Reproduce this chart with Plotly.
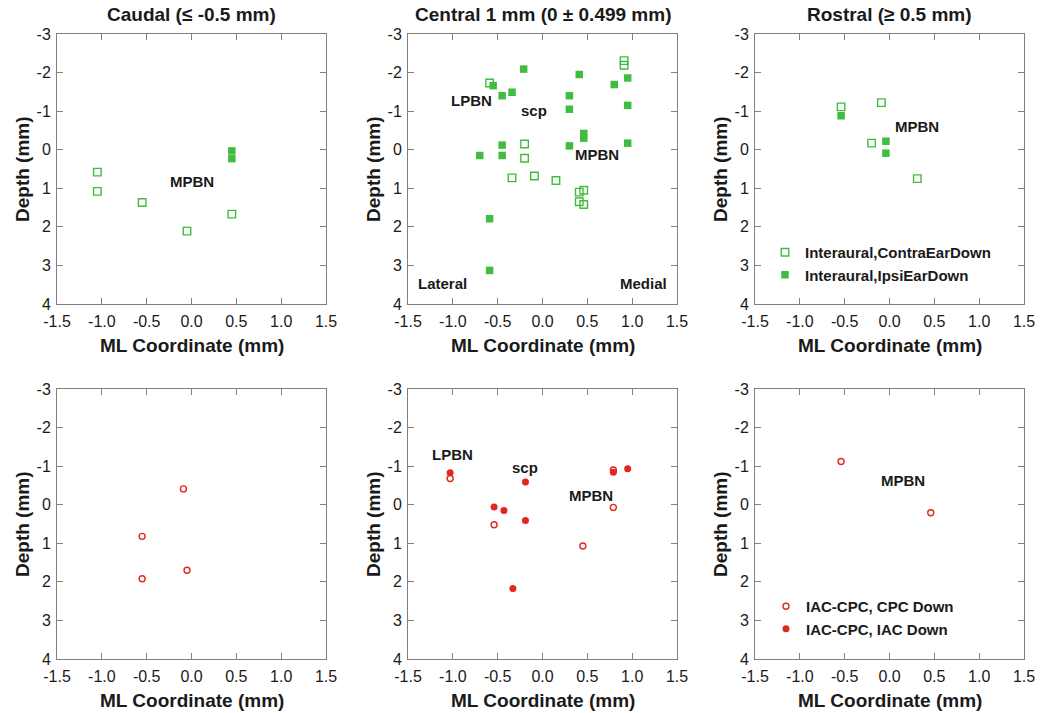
import plotly.graph_objects as go

# ---------------- data ----------------
x_ticks = [-1.5, -1.0, -0.5, 0.0, 0.5, 1.0, 1.5]
y_ticks = [-3, -2, -1, 0, 1, 2, 3, 4]
x_tick_labels = ["-1.5", "-1.0", "-0.5", "0.0", "0.5", "1.0", "1.5"]
y_tick_labels = ["-3", "-2", "-1", "0", "1", "2", "3", "4"]
panel_titles = ["Caudal (≤ -0.5 mm)", "Central 1 mm (0 ± 0.499 mm)", "Rostral (≥ 0.5 mm)"]

caudal_contra_x = [-1.05, -1.05, -0.55, -0.05, 0.45]
caudal_contra_y = [0.58, 1.08, 1.37, 2.11, 1.67]
caudal_ipsi_x = [0.45, 0.45]
caudal_ipsi_y = [0.03, 0.23]

central_contra_x = [-0.59, 0.91, 0.91, -0.20, -0.20, -0.34, -0.09, 0.15, 0.46, 0.41, 0.41, 0.46]
central_contra_y = [-1.73, -2.31, -2.19, -0.15, 0.22, 0.73, 0.68, 0.80, 1.05, 1.10, 1.35, 1.42]
central_ipsi_x = [-0.55, -0.21, -0.45, -0.34, 0.30, 0.30, 0.41, 0.80, 0.95, 0.95,
                  0.46, 0.46, 0.30, 0.95, -0.45, -0.45, -0.70, -0.59, -0.59]
central_ipsi_y = [-1.66, -2.09, -1.40, -1.49, -1.40, -1.05, -1.95, -1.69, -1.86, -1.15,
                  -0.42, -0.30, -0.10, -0.17, -0.12, 0.15, 0.15, 1.79, 3.13]

rostral_contra_x = [-0.54, -0.09, -0.20, 0.31]
rostral_contra_y = [-1.11, -1.22, -0.17, 0.75]
rostral_ipsi_x = [-0.54, -0.04, -0.04]
rostral_ipsi_y = [-0.88, -0.22, 0.09]

caudal_cpc_x = [-0.09, -0.55, -0.55, -0.05]
caudal_cpc_y = [-0.41, 0.82, 1.92, 1.70]

central_cpc_x = [-1.03, 0.79, 0.79, -0.54, 0.45]
central_cpc_y = [-0.68, -0.90, 0.07, 0.52, 1.07]
central_iac_x = [-1.03, -0.19, -0.54, -0.43, -0.19, -0.33, 0.79, 0.95]
central_iac_y = [-0.83, -0.59, 0.06, 0.15, 0.41, 2.17, -0.84, -0.93]

rostral_cpc_x = [-0.54, 0.46]
rostral_cpc_y = [-1.12, 0.21]

# region labels: (panel index, text, x, y)
region_labels = [
    (1, "MPBN", 0.01, 0.82),
    (2, "LPBN", -0.79, -1.28),
    (2, "scp", -0.10, -1.02),
    (2, "MPBN", 0.61, 0.13),
    (2, "Lateral", -1.11, 3.48),
    (2, "Medial", 1.13, 3.48),
    (3, "MPBN", 0.31, -0.59),
    (5, "LPBN", -1.00, -1.29),
    (5, "scp", -0.20, -0.97),
    (5, "MPBN", 0.545, -0.24),
    (6, "MPBN", 0.15, -0.62),
]

# ---------------- style ----------------
W, H = 1043, 713
GREEN = "#40bc40"
RED = "#e3261e"
AXIS = "#808080"
FONT = "Liberation Sans"

col_px = [(57, 326), (408, 677), (755, 1024)]
row_px = [(34, 304), (389, 659)]

fig = go.Figure()

def add(panel, xs, ys, name, symbol, color, filled, legend=None, show=False, rank=None, size=7.5):
    ax = "" if panel == 1 else str(panel)
    marker = dict(symbol=symbol, size=size, color=color,
                  line=dict(color=color, width=1.4 if not filled else 0))
    tr = go.Scatter(x=xs, y=ys, mode="markers", name=name, marker=marker,
                    xaxis="x" + ax, yaxis="y" + ax, showlegend=show)
    if legend:
        tr.legend = legend
    if rank is not None:
        tr.legendrank = rank
    fig.add_trace(tr)

CONTRA = "Interaural,ContraEarDown"
IPSI = "Interaural,IpsiEarDown"
CPC = "IAC-CPC, CPC Down"
IAC = "IAC-CPC, IAC Down"

add(1, caudal_contra_x, caudal_contra_y, CONTRA, "square-open", GREEN, False)
add(1, caudal_ipsi_x, caudal_ipsi_y, IPSI, "square", GREEN, True)
add(2, central_contra_x, central_contra_y, CONTRA, "square-open", GREEN, False)
add(2, central_ipsi_x, central_ipsi_y, IPSI, "square", GREEN, True)
add(3, rostral_contra_x, rostral_contra_y, CONTRA, "square-open", GREEN, False, "legend", True, 1)
add(3, rostral_ipsi_x, rostral_ipsi_y, IPSI, "square", GREEN, True, "legend", True, 2)

add(4, caudal_cpc_x, caudal_cpc_y, CPC, "circle-open", RED, False, size=6)
add(5, central_cpc_x, central_cpc_y, CPC, "circle-open", RED, False, size=6)
add(5, central_iac_x, central_iac_y, IAC, "circle", RED, True, "legend2", True, 2, size=7)
add(6, rostral_cpc_x, rostral_cpc_y, CPC, "circle-open", RED, False, "legend2", True, 1, size=6)

layout = dict(
    width=W, height=H,
    margin=dict(l=0, r=0, t=0, b=0, autoexpand=False),
    paper_bgcolor="white", plot_bgcolor="white",
    font=dict(family=FONT, color="#1a1a1a"),
    legend=dict(x=765 / W, y=1 - 236 / H, xanchor="left", yanchor="top",
                bgcolor="rgba(0,0,0,0)", font=dict(size=15, weight="bold", family=FONT),
                itemwidth=30, tracegroupgap=0),
    legend2=dict(x=766 / W, y=1 - 590 / H, xanchor="left", yanchor="top",
                 bgcolor="rgba(0,0,0,0)", font=dict(size=15, weight="bold", family=FONT),
                 itemwidth=30, tracegroupgap=0),
)

annotations = []
for p in range(1, 7):
    r = (p - 1) // 3
    c = (p - 1) % 3
    ax = "" if p == 1 else str(p)
    x0, x1 = col_px[c]
    y0, y1 = row_px[r]
    common = dict(showgrid=False, zeroline=False, showline=True, linecolor=AXIS, linewidth=1,
                  mirror="ticks", ticks="inside", ticklen=6, tickcolor=AXIS, tickwidth=1,
                  automargin=False,
                  tickfont=dict(size=16, family=FONT, color="#1a1a1a"))
    layout["xaxis" + ax] = dict(common, domain=[x0 / W, x1 / W], range=[-1.5, 1.5],
                                tickvals=x_ticks, ticktext=x_tick_labels, anchor="y" + ax,
                                ticklabelstandoff=3)
    layout["yaxis" + ax] = dict(common, domain=[1 - y1 / H, 1 - y0 / H], range=[4, -3],
                                tickvals=y_ticks, ticktext=y_tick_labels, anchor="x" + ax,
                                ticklabelstandoff=2)
    # axis titles
    xc = (x0 + x1) / 2
    annotations.append(dict(text="ML Coordinate (mm)", x=xc / W, y=1 - (y1 + 41) / H,
                            xref="paper", yref="paper", showarrow=False,
                            xanchor="center", yanchor="middle",
                            font=dict(size=19, weight="bold", family=FONT)))
    annotations.append(dict(text="Depth (mm)", x=(x0 - 35) / W, y=1 - ((y0 + y1) / 2) / H,
                            xref="paper", yref="paper", showarrow=False, textangle=-90,
                            xanchor="center", yanchor="middle",
                            font=dict(size=19, weight="bold", family=FONT)))
    if r == 0:
        annotations.append(dict(text=panel_titles[c], x=xc / W, y=1 - 15 / H,
                                xref="paper", yref="paper", showarrow=False,
                                xanchor="center", yanchor="middle",
                                font=dict(size=19, weight="bold", family=FONT)))

for p, txt, lx, ly in region_labels:
    ax = "" if p == 1 else str(p)
    annotations.append(dict(text=txt, x=lx, y=ly, xref="x" + ax, yref="y" + ax,
                            showarrow=False, xanchor="center", yanchor="middle",
                            font=dict(size=15, weight="bold", family=FONT)))

layout["annotations"] = annotations
fig.update_layout(**layout)
fig.write_html("out.html",
               config={"displayModeBar": False},
               post_script="document.body.style.margin='0';document.body.style.overflow='hidden';")
